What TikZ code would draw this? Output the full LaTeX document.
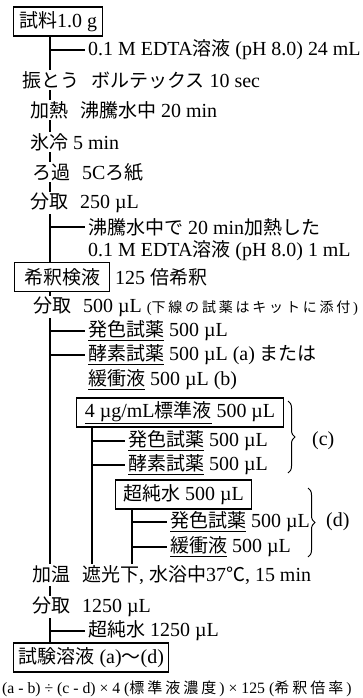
\documentclass[tikz,border=0pt]{standalone}
\usepackage{fontspec}
\setmainfont[Scale=1.05]{Liberation Serif}
\newfontfamily\jpf{Noto Sans CJK JP}
\newcommand\J[1]{{\jpf #1}}
\newcommand\U[1]{\underline{#1}}
\newcommand\ls[1]{\lsA#1\relax}
\def\lsA#1{\ifx\relax#1\else#1\kern.2em\relax\expandafter\lsA\fi}
\usetikzlibrary{decorations.pathreplacing,backgrounds}
\pgfdeclarelayer{bottom}
\pgfsetlayers{bottom,background,main}
\begin{document}
\begin{tikzpicture}[x=1pt,y=-1pt,
  txt/.style={anchor=west,inner xsep=0pt,inner ysep=1.5pt,fill=white,font=\fontsize{19}{24}\selectfont},
  br/.style={txt,inner xsep=3pt},
  boxed/.style={anchor=west,draw,line width=1.1pt,fill=white,inner xsep=5pt,inner ysep=0pt,minimum height=29pt,font=\fontsize{19}{24}\selectfont},
  ln/.style={line width=1.2pt},
  brc/.style={decorate,decoration={brace,amplitude=7pt},line width=1pt}]
\useasboundingbox (0,0) rectangle (362,698);
\begin{pgfonlayer}{bottom}
\fill[white] (0,0) rectangle (362,698);
\end{pgfonlayer}
\coordinate (T) at (50,0);
\coordinate (T2) at (92,0);
\coordinate (T3) at (132,0);
% main column
\node[boxed,minimum width=89pt] (box1) at (13,21.5) {\J{試料}1.0 g};
\node[br] (b1) at (85,50) {0.1 M EDTA\J{溶液} (pH 8.0) 24 mL};
\node[txt] (r1) at (22,80) {\J{振とう}\hspace{.6em}\J{ボルテックス} 10 sec};
\node[txt] (r2) at (30,110) {\J{加熱}\hspace{.6em}\J{沸騰水中} 20 min};
\node[txt] (r3) at (30,142) {\J{氷冷} 5 min};
\node[txt] (r4) at (32,172) {\J{ろ過}\hspace{.6em}5C\J{ろ紙}};
\node[txt] (r5) at (30,203) {\J{分取}\hspace{.6em}250 µL};
\node[br] (b2a) at (85,227) {\J{沸騰水中で} 20 min\J{加熱した}};
\node[br] (b2b) at (85,251) {0.1 M EDTA\J{溶液} (pH 8.0) 1 mL};
\node[boxed,minimum width=95pt] (box2) at (14,277) {\J{希釈検液}};
\node[txt] (box2r) at (115,277) {125 \J{倍希釈}};
\node[txt] (r6) at (33,307) {\J{分取}\hspace{.6em}500 µL {\fontsize{14}{16}\selectfont (\J{\ls{下線の試薬はキットに添付}})}};
\node[br] (b3) at (85,331) {\U{\J{発色試薬}} 500 µL};
\node[br] (b4) at (85,355) {\U{\J{酵素試薬}} 500 µL (a) \J{または}};
\node[br] (b4b) at (85,380) {\U{\J{緩衝液}} 500 µL (b)};
\node[boxed,minimum width=207pt] (box4) at (76,412.5) {\U{4 µg/mL\J{標準液}} 500 µL};
\node[br] (b5) at (125,441) {\U{\J{発色試薬}} 500 µL};
\node[br] (b6) at (125,465) {\U{\J{酵素試薬}} 500 µL};
\node[boxed,minimum width=136pt] (box5) at (115,494.5) {\J{超純水} 500 µL};
\node[br] (b7) at (167,522) {\U{\J{発色試薬}} 500 µL};
\node[br] (b8) at (167,547) {\U{\J{緩衝液}} 500 µL};
\coordinate (bc1) at (288,401);
\coordinate (bc2) at (288,473);
\node[txt] (lc) at (312,441) {(c)};
\coordinate (bd1) at (308,488);
\coordinate (bd2) at (308,557);
\node[txt] (ld) at (326,522) {(d)};
\node[txt] (r7) at (32,575) {\J{加温}\hspace{.6em}\J{遮光下}, \J{水浴中}37\J{℃}, 15 min};
\node[txt] (r8) at (32,607) {\J{分取}\hspace{.6em}1250 µL};
\node[br] (b9) at (85,631) {\J{超純水} 1250 µL};
\node[boxed,minimum width=155pt] (box6) at (13,657.5) {\J{試験溶液} (a)\J{〜}(d)};
\node[txt,font=\fontsize{15}{18}\selectfont] (f) at (2,689) {(a - b) ÷ (c - d) × 4 (\J{\ls{標準液濃度}}) × 125 (\J{\ls{希釈倍率}})};
\begin{pgfonlayer}{background}
\draw[ln] (box1.south -| T) -- (box6.north -| T);
\foreach \n in {b1,b2a,b3,b4,b9} \draw[ln] (\n.west -| T) -- (\n.west);
\draw[ln] (box4.south -| T2) -- (r7.north -| T2);
\foreach \n in {b5,b6} \draw[ln] (\n.west -| T2) -- (\n.west);
\draw[ln] (box5.south -| T3) -- (r7.north -| T3);
\foreach \n in {b7,b8} \draw[ln] (\n.west -| T3) -- (\n.west);
\end{pgfonlayer}
\draw[brc] (bc1) -- (bc2);
\draw[brc] (bd1) -- (bd2);
\end{tikzpicture}
\end{document}
